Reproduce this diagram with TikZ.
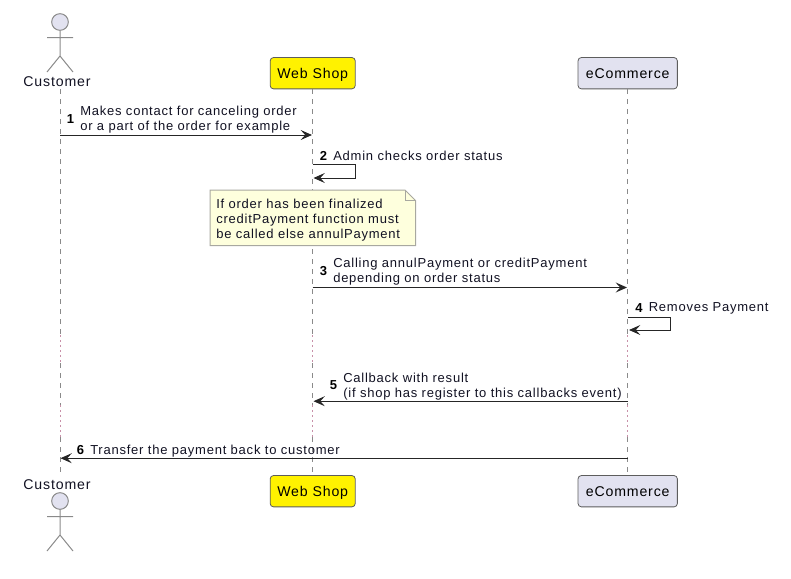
\documentclass[tikz,border=0pt]{standalone}
\usepackage{fontspec}
\setmainfont{Liberation Sans}[LetterSpace=5.9]
\usetikzlibrary{arrows.meta,shapes.misc}
\definecolor{headfill}{HTML}{E2E2F0}
\definecolor{headline}{HTML}{181818}
\definecolor{lifegray}{HTML}{8A8A8A}
\definecolor{delayred}{HTML}{C890A8}
\definecolor{notefill}{HTML}{FEFFDD}
\definecolor{notegray}{HTML}{A8A8A0}
\definecolor{msgtext}{HTML}{111122}
\tikzset{
	head/.style={draw=headline!70,fill=headfill,rounded corners=2.5pt,line width=0.6pt,minimum height=23.5pt,text height=9pt,text depth=1.2pt,font=\fontsize{10.6}{12}\selectfont,text=black},
	actorlabel/.style={font=\fontsize{10.6}{12}\selectfont,text=msgtext},
	msglabel/.style={font=\fontsize{9.75}{11.25}\selectfont,text=msgtext,align=left,anchor=south west},
	numlabel/.style={font=\fontsize{9.75}{11.25}\selectfont\bfseries,text=black},
	msg/.style={draw=black!85,line width=0.75pt,-{Stealth[length=8.5pt,width=7.5pt,inset=3.4pt]}},
	lifeline/.style={draw=lifegray,line width=0.5pt,dash pattern=on 3.75pt off 3.75pt},
	delayline/.style={draw=delayred,line width=0.6pt,dash pattern=on 1.5pt off 2.25pt},
	actorline/.style={draw=lifegray,line width=0.75pt},
}
\begin{document}
\begin{tikzpicture}[x=0.75pt,y=-0.75pt]
	\tikzstyle{every node}+=[inner sep=0pt]
	\useasboundingbox (0,0) rectangle (791,578);
	\node [head,fill=yellow,minimum width=63.8pt] (shoptop) at (312.7,73.2) {Web Shop};
	\node [head,minimum width=74.5pt] (ecomtop) at (627.7,73.2) {eCommerce};
	\node [head,fill=yellow,minimum width=63.8pt] (shopbot) at (312.7,491.2) {Web Shop};
	\node [head,minimum width=74.5pt] (ecombot) at (627.7,491.2) {eCommerce};
	\node [actorlabel] (custtop) at (57,82) {Customer};
	\node [actorlabel] (custbot) at (57,485) {Customer};
	\node [draw=lifegray,fill=headfill,circle,minimum size=12.5pt,line width=0.75pt] (headtop) at (60,22) {};
	\node [draw=lifegray,fill=headfill,circle,minimum size=12.5pt,line width=0.75pt] (headbot) at (60,501) {};
	\coordinate (hiptop) at (60,56);
	\coordinate (hipbot) at (60,535);
	\draw [actorline] (headtop) -- (hiptop) -- (47,72) (hiptop) -- (73,72) (47,37.5) -- (73,37.5);
	\draw [actorline] (headbot) -- (hipbot) -- (47,551) (hipbot) -- (73,551) (47,516.5) -- (73,516.5);
	\coordinate (custa) at (60,89);
	\coordinate (custb) at (60,473);
	\coordinate (custd1) at (60,335);
	\coordinate (custd2) at (60,363);
	\coordinate (custd3) at (60,405);
	\coordinate (custd4) at (60,437);
	\coordinate (shopd1) at (312.7,335);
	\coordinate (shopd2) at (312.7,363);
	\coordinate (shopd3) at (312.7,405);
	\coordinate (shopd4) at (312.7,437);
	\coordinate (ecomd1) at (627.7,335);
	\coordinate (ecomd2) at (627.7,363);
	\coordinate (ecomd3) at (627.7,405);
	\coordinate (ecomd4) at (627.7,437);
	\draw [lifeline] (custa) -- (custd1);
	\draw [delayline] (custd1) -- (custd2);
	\draw [lifeline] (custd2) -- (custd3);
	\draw [delayline] (custd3) -- (custd4);
	\draw [lifeline] (custd4) -- (custb);
	\draw [lifeline] (shoptop) -- (shopd1);
	\draw [delayline] (shopd1) -- (shopd2);
	\draw [lifeline] (shopd2) -- (shopd3);
	\draw [delayline] (shopd3) -- (shopd4);
	\draw [lifeline] (shopd4) -- (shopbot);
	\draw [lifeline] (ecomtop) -- (ecomd1);
	\draw [delayline] (ecomd1) -- (ecomd2);
	\draw [lifeline] (ecomd2) -- (ecomd3);
	\draw [delayline] (ecomd3) -- (ecomd4);
	\draw [lifeline] (ecomd4) -- (ecombot);
	\coordinate (m1a) at (60,135);
	\coordinate (m1b) at (312,135);
	\coordinate (m2a) at (312.5,164);
	\coordinate (m2b) at (355,164);
	\coordinate (m2c) at (355,178);
	\coordinate (m2d) at (313.5,178);
	\coordinate (m3a) at (312.5,287.5);
	\coordinate (m3b) at (627,287.5);
	\coordinate (m4a) at (628,317);
	\coordinate (m4b) at (670,317);
	\coordinate (m4c) at (670,330);
	\coordinate (m4d) at (629,330);
	\coordinate (m5a) at (628,401.2);
	\coordinate (m5b) at (313.5,401.2);
	\coordinate (m6a) at (628,458.2);
	\coordinate (m6b) at (60.5,458.2);
	\draw [msg] (m1a) -- (m1b);
	\draw [msg] (m2a) -- (m2b) -- (m2c) -- (m2d);
	\draw [msg] (m3a) -- (m3b);
	\draw [msg] (m4a) -- (m4b) -- (m4c) -- (m4d);
	\draw [msg] (m5a) -- (m5b);
	\draw [msg] (m6a) -- (m6b);
	\node [numlabel] (n1) at (70.5,119.5) {1};
	\node [msglabel] (t1) at (80,133.5) {Makes contact for canceling order\\or a part of the order for example};
	\node [numlabel] (n2) at (323.5,155.5) {2};
	\node [msglabel] (t2) at (333,161) {Admin checks order status};
	\node [numlabel] (n3) at (323.5,271.5) {3};
	\node [msglabel] (t3) at (333,285) {Calling annulPayment or creditPayment\\depending on order status};
	\node [numlabel] (n4) at (639,308) {4};
	\node [msglabel] (t4) at (648.5,314.5) {Removes Payment};
	\node [numlabel] (n5) at (333.5,385) {5};
	\node [msglabel] (t5) at (343,400) {Callback with result\\(if shop has register to this callbacks event)};
	\node [numlabel] (n6) at (80.5,450.5) {6};
	\node [msglabel] (t6) at (90,457) {Transfer the payment back to customer};
	\draw [fill=notefill,draw=notegray,line width=0.75pt] (210,190) -- (405,190) -- (415.5,200.5) -- (415.5,245.5) -- (210,245.5) -- cycle;
	\draw [draw=notegray,line width=0.75pt] (405,190) -- (405,200.5) -- (415.5,200.5);
	\node [msglabel,anchor=north west] (note) at (216,198.5) {If order has been finalized\\creditPayment function must\\be called else annulPayment};
\end{tikzpicture}
\end{document}
